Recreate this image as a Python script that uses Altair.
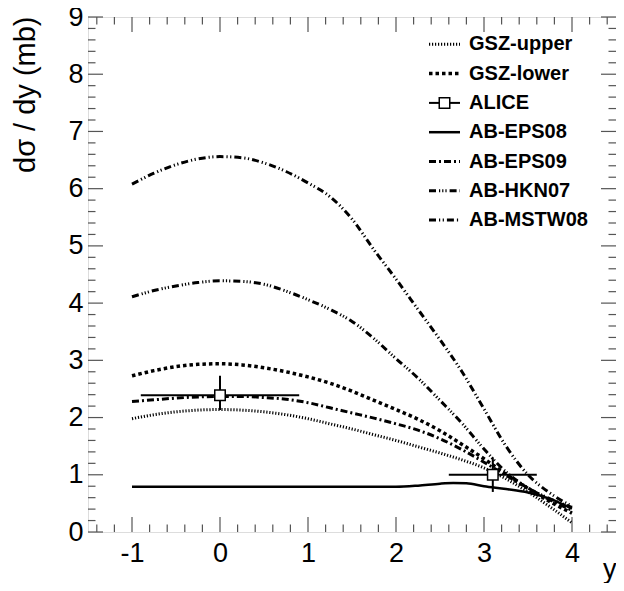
import altair as alt
import pandas as pd
import numpy as np

# ---------------- data ----------------
Y_GRID = [-1.0, -0.75, -0.5, -0.25, 0.0, 0.25, 0.5, 0.75, 1.0, 1.25, 1.5,
          1.75, 2.0, 2.25, 2.5, 2.75, 3.0, 3.25, 3.5, 3.75, 4.0]

gsz_upper = [1.98, 2.05, 2.10, 2.13, 2.14, 2.13, 2.10, 2.05, 1.98, 1.89, 1.80,
             1.70, 1.60, 1.49, 1.38, 1.26, 1.12, 0.93, 0.70, 0.44, 0.16]
gsz_lower = [2.73, 2.82, 2.89, 2.93, 2.94, 2.92, 2.87, 2.80, 2.71, 2.60, 2.46,
             2.30, 2.14, 1.97, 1.77, 1.53, 1.28, 1.01, 0.76, 0.53, 0.33]
ab_eps09 = [2.28, 2.31, 2.34, 2.36, 2.37, 2.37, 2.35, 2.32, 2.26, 2.17, 2.08,
            1.99, 1.89, 1.78, 1.63, 1.44, 1.22, 0.99, 0.77, 0.56, 0.38]
ab_hkn07 = [4.11, 4.22, 4.30, 4.36, 4.39, 4.38, 4.33, 4.21, 4.06, 3.89, 3.68,
            3.38, 3.03, 2.69, 2.30, 1.90, 1.45, 1.05, 0.77, 0.58, 0.43]
ab_mstw08 = [6.08, 6.27, 6.42, 6.52, 6.56, 6.54, 6.45, 6.30, 6.10, 5.86, 5.47,
             4.93, 4.42, 3.89, 3.36, 2.80, 2.15, 1.50, 1.00, 0.68, 0.45]

eps08_y = [-1.0, -0.5, 0.0, 0.5, 1.0, 1.5, 2.0, 2.25, 2.5, 2.65, 2.8, 3.0,
           3.25, 3.5, 3.75, 4.0]
ab_eps08 = [0.79, 0.79, 0.79, 0.79, 0.79, 0.79, 0.79, 0.81, 0.845, 0.855,
            0.85, 0.80, 0.75, 0.69, 0.58, 0.41]

alice_y = [0.0, 3.1]
alice_xerr = [0.9, 0.5]
alice_val = [2.39, 1.00]
alice_lo = [2.13, 0.70]
alice_hi = [2.73, 1.30]

x_ticks = [-1, 0, 1, 2, 3, 4]
y_ticks = [0, 1, 2, 3, 4, 5, 6, 7, 8, 9]

legend_labels = ["GSZ-upper", "GSZ-lower", "ALICE", "AB-EPS08",
                 "AB-EPS09", "AB-HKN07", "AB-MSTW08"]

# ---------------- layout constants ----------------
W, H = 528, 515
FONT = "Liberation Sans"

xs = alt.Scale(domain=[-1.5, 4.5], nice=False, zero=False)
ys = alt.Scale(domain=[0, 9], nice=False, zero=False)

styles = {
    "GSZ-upper": dict(dash=[1.2, 1.8], width=3),
    "GSZ-lower": dict(dash=[3.5, 3], width=3.5),
    "AB-EPS08": dict(dash=None, width=2.5),
    "AB-EPS09": dict(dash=[7, 3, 2, 3], width=3),
    "AB-HKN07": dict(dash=[7, 3, 1.2, 2, 1.2, 2, 1.2, 3], width=3),
    "AB-MSTW08": dict(dash=[7, 3, 1.2, 2.5, 1.2, 3], width=3),
}

curves = {
    "GSZ-upper": (Y_GRID, gsz_upper),
    "GSZ-lower": (Y_GRID, gsz_lower),
    "AB-EPS08": (eps08_y, ab_eps08),
    "AB-EPS09": (Y_GRID, ab_eps09),
    "AB-HKN07": (Y_GRID, ab_hkn07),
    "AB-MSTW08": (Y_GRID, ab_mstw08),
}

layers = []

# axes (labels only; ticks drawn inward as rules)
base_axes = alt.Chart(pd.DataFrame({"x": [0.0], "v": [0.0]})).mark_point(opacity=0).encode(
    x=alt.X("x:Q", scale=xs, axis=alt.Axis(
        values=x_ticks, ticks=False, tickSize=0, domain=False, grid=False,
        labelExpr="'' + datum.value",
        labelFont=FONT, labelFontSize=27, labelColor="black", labelPadding=8,
        labelFlush=False,
        title="y", titleFont=FONT, titleFontSize=27, titleFontWeight="normal",
        titleColor="black", titleAnchor="end", titleAlign="right",
        titleBaseline="alphabetic", titleX=W, titleY=45)),
    y=alt.Y("v:Q", scale=ys, axis=alt.Axis(
        values=y_ticks, ticks=False, tickSize=0, domain=False, grid=False,
        labelExpr="'' + datum.value",
        labelFont=FONT, labelFontSize=27, labelColor="black", labelPadding=5,
        labelFlush=False,
        title="dσ / dy (mb)", titleFont=FONT, titleFontSize=29,
        titleFontWeight="normal", titleColor="black", titleAnchor="end",
        titleAlign="right", titleAngle=270, titleBaseline="alphabetic",
        titleX=-54, titleY=-1)),
)
layers.append(base_axes)

# inward ticks
xt_major = pd.DataFrame({"t": x_ticks})
xt_minor = pd.DataFrame({"t": [round(v, 2) for v in np.arange(-1.4, 4.45, 0.2)
                               if abs(v - round(v)) > 1e-6]})
yt_major = pd.DataFrame({"t": y_ticks})
yt_minor = pd.DataFrame({"t": [round(v, 2) for v in np.arange(0.2, 9.0, 0.2)
                               if abs(v - round(v)) > 1e-6]})

def xticks(df, length):
    bot = alt.Chart(df).mark_rule(color="#555", strokeWidth=1.2).encode(
        x=alt.X("t:Q", scale=xs), y=alt.value(H), y2=alt.value(H - length))
    top = alt.Chart(df).mark_rule(color="#555", strokeWidth=1.2).encode(
        x=alt.X("t:Q", scale=xs), y=alt.value(0), y2=alt.value(length))
    return [bot, top]

def yticks(df, length):
    left = alt.Chart(df).mark_rule(color="#555", strokeWidth=1.2).encode(
        y=alt.Y("t:Q", scale=ys), x=alt.value(0), x2=alt.value(length))
    right = alt.Chart(df).mark_rule(color="#555", strokeWidth=1.2).encode(
        y=alt.Y("t:Q", scale=ys), x=alt.value(W), x2=alt.value(W - length))
    return [left, right]

layers += xticks(xt_major, 15) + xticks(xt_minor, 7.5)
layers += yticks(yt_major, 15) + yticks(yt_minor, 7.5)

# curves
for name, (yy, vv) in curves.items():
    st = styles[name]
    kw = dict(color="black", strokeWidth=st["width"], interpolate="monotone",
              strokeCap="butt")
    if st["dash"]:
        kw["strokeDash"] = st["dash"]
    df = pd.DataFrame({"y": yy, "v": vv})
    layers.append(alt.Chart(df).mark_line(**kw).encode(
        x=alt.X("y:Q", scale=xs), y=alt.Y("v:Q", scale=ys)))

# ALICE points
adf = pd.DataFrame({
    "y": alice_y,
    "ylo": [a - e for a, e in zip(alice_y, alice_xerr)],
    "yhi": [a + e for a, e in zip(alice_y, alice_xerr)],
    "v": alice_val, "lo": alice_lo, "hi": alice_hi,
})
layers.append(alt.Chart(adf).mark_rule(color="black", strokeWidth=2).encode(
    x=alt.X("ylo:Q", scale=xs), x2="yhi:Q", y=alt.Y("v:Q", scale=ys)))
layers.append(alt.Chart(adf).mark_rule(color="black", strokeWidth=2).encode(
    x=alt.X("y:Q", scale=xs), y=alt.Y("lo:Q", scale=ys), y2="hi:Q"))
layers.append(alt.Chart(adf).mark_point(
    shape="square", size=110, filled=True, fill="white", stroke="black",
    strokeWidth=1.5, opacity=1).encode(
    x=alt.X("y:Q", scale=xs), y=alt.Y("v:Q", scale=ys)))

# legend
one = alt.Data(values=[{"a": 1}])
LX0, LX1, TX = 341, 372, 381
for i, lab in enumerate(legend_labels):
    ry = 27.3 + 29.3 * i
    if lab == "ALICE":
        layers.append(alt.Chart(one).mark_rule(color="black", strokeWidth=2).encode(
            x=alt.value(LX0), x2=alt.value(LX1), y=alt.value(ry)))
        layers.append(alt.Chart(one).mark_point(
            shape="square", size=110, filled=True, fill="white", stroke="black",
            strokeWidth=1.5, opacity=1).encode(
            x=alt.value((LX0 + LX1) / 2), y=alt.value(ry)))
    else:
        st = styles[lab]
        kw = dict(color="black", strokeWidth=st["width"], strokeCap="butt")
        if st["dash"]:
            kw["strokeDash"] = st["dash"]
        layers.append(alt.Chart(one).mark_rule(**kw).encode(
            x=alt.value(LX0), x2=alt.value(LX1), y=alt.value(ry)))
    layers.append(alt.Chart(one).mark_text(
        text=lab, align="left", baseline="middle", font=FONT, fontSize=20,
        fontWeight="bold", color="black").encode(
        x=alt.value(TX), y=alt.value(ry)))

chart = alt.layer(*layers).properties(
    width=W, height=H,
    padding={"left": 80, "top": 9, "right": 0, "bottom": 51},
    autosize=alt.AutoSizeParams(type="none"),
).configure_view(stroke="black", strokeWidth=2).configure(background="white")

chart.save("out.html", embed_options={"renderer": "svg", "actions": False})
